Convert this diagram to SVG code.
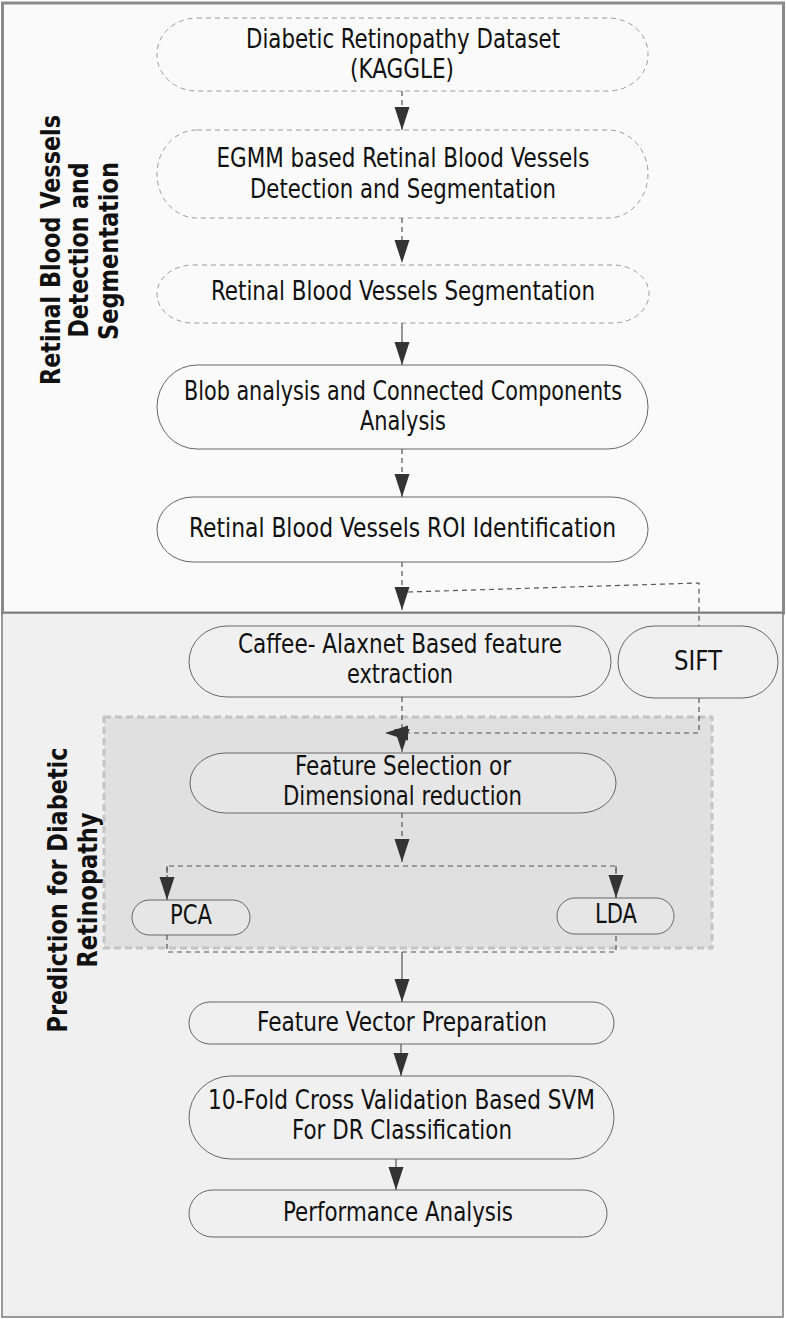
<svg xmlns="http://www.w3.org/2000/svg" width="786" height="1319" viewBox="0 0 786 1319">
<style>
.t{font-family:"DejaVu Sans Condensed","DejaVu Sans",sans-serif;font-size:26px;fill:#111;text-anchor:middle}
.b{font-family:"DejaVu Sans","Liberation Sans",sans-serif;font-size:27px;font-weight:bold;fill:#111;text-anchor:middle}
.nd{fill:#fafafa;stroke:#9a9a9a;stroke-width:1;stroke-dasharray:5,4}
.ns{fill:#fafafa;stroke:#666;stroke-width:1}
.nb{fill:#f0f0f0;stroke:#666;stroke-width:1}
.ng{fill:#e6e6e6;stroke:#666;stroke-width:1}
.cd{fill:none;stroke:#555;stroke-width:1.2;stroke-dasharray:5,4}
.cs{fill:none;stroke:#555;stroke-width:1.2}
</style>
<defs>
<marker id="ah" markerUnits="userSpaceOnUse" markerWidth="24" markerHeight="16" refX="23" refY="7.5" orient="auto" viewBox="0 0 24 16">
<path d="M0,0 L23,7.5 L0,15 z" fill="#333"/>
</marker>
</defs>

<g id="panel-top">
<rect x="2.5" y="3" width="781" height="610" fill="#fafafa" stroke="#8a8a8a" stroke-width="3"/>
<text class="b" transform="translate(60,250) rotate(-90)" textLength="270" lengthAdjust="spacingAndGlyphs">Retinal Blood Vessels</text>
<text class="b" transform="translate(88,250) rotate(-90)" textLength="175" lengthAdjust="spacingAndGlyphs">Detection and</text>
<text class="b" transform="translate(118,251) rotate(-90)" textLength="178" lengthAdjust="spacingAndGlyphs">Segmentation</text>
</g>
<g id="panel-bottom">
<rect x="2" y="613" width="781" height="704" fill="#f0f0f0" stroke="#7a7a7a" stroke-width="1.5"/>
<text class="b" transform="translate(67,890) rotate(-90)" textLength="285" lengthAdjust="spacingAndGlyphs">Prediction for Diabetic</text>
<text class="b" transform="translate(97,890) rotate(-90)" textLength="155" lengthAdjust="spacingAndGlyphs">Retinopathy</text>
</g>
<g id="group-reduction">
<rect x="104" y="717" width="608" height="231" fill="#e0e0e0" stroke="#c4c4c4" stroke-width="3" stroke-dasharray="7,4"/>
</g>

<g id="n1">
<rect class="nd" x="157" y="18" width="491" height="73" rx="40" ry="36"/>
<text class="t" x="403" y="48" textLength="314" lengthAdjust="spacingAndGlyphs">Diabetic Retinopathy Dataset</text>
<text class="t" x="402" y="78" textLength="104" lengthAdjust="spacingAndGlyphs">(KAGGLE)</text>
</g>
<g id="n2">
<rect class="nd" x="157" y="130" width="491" height="88" rx="40" ry="44"/>
<text class="t" x="403" y="167" textLength="373" lengthAdjust="spacingAndGlyphs">EGMM based Retinal Blood Vessels</text>
<text class="t" x="403" y="198" textLength="306" lengthAdjust="spacingAndGlyphs">Detection and Segmentation</text>
</g>
<g id="n3">
<rect class="nd" x="157" y="265" width="492" height="58" rx="36" ry="29"/>
<text class="t" x="403" y="300" textLength="384" lengthAdjust="spacingAndGlyphs">Retinal Blood Vessels Segmentation</text>
</g>
<g id="n4">
<rect class="ns" x="157" y="365" width="491" height="84" rx="40" ry="42"/>
<text class="t" x="403" y="400" textLength="438" lengthAdjust="spacingAndGlyphs">Blob analysis and Connected Components</text>
<text class="t" x="403" y="430" textLength="86" lengthAdjust="spacingAndGlyphs">Analysis</text>
</g>
<g id="n5">
<rect class="ns" x="157" y="497" width="491" height="65" rx="36" ry="32.5"/>
<text class="t" x="402.5" y="537" textLength="427" lengthAdjust="spacingAndGlyphs">Retinal Blood Vessels ROI Identification</text>
</g>
<g id="n6">
<rect class="nb" x="189" y="626" width="422" height="71" rx="38" ry="35.5"/>
<text class="t" x="400" y="653" textLength="324" lengthAdjust="spacingAndGlyphs">Caffee- Alaxnet Based feature</text>
<text class="t" x="400" y="683" textLength="106" lengthAdjust="spacingAndGlyphs">extraction</text>
</g>
<g id="n7">
<rect class="nb" x="618" y="626" width="160" height="72" rx="36" ry="36"/>
<text class="t" x="698" y="670" textLength="48" lengthAdjust="spacingAndGlyphs">SIFT</text>
</g>
<g id="n8">
<rect class="ng" x="190" y="753" width="426" height="60" rx="36" ry="30"/>
<text class="t" x="403" y="775" textLength="216" lengthAdjust="spacingAndGlyphs">Feature Selection or</text>
<text class="t" x="402.5" y="805" textLength="239" lengthAdjust="spacingAndGlyphs">Dimensional reduction</text>
</g>
<g id="n9">
<rect class="ng" x="132" y="900" width="118" height="35" rx="17.5" ry="17.5"/>
<text class="t" x="191" y="924" textLength="42" lengthAdjust="spacingAndGlyphs">PCA</text>
</g>
<g id="n10">
<rect class="ng" x="557" y="898" width="117" height="36" rx="18" ry="18"/>
<text class="t" x="616" y="923" textLength="42" lengthAdjust="spacingAndGlyphs">LDA</text>
</g>
<g id="n11">
<rect class="nb" x="189" y="1002" width="425" height="42" rx="21" ry="21"/>
<text class="t" x="402" y="1031" textLength="290" lengthAdjust="spacingAndGlyphs">Feature Vector Preparation</text>
</g>
<g id="n12">
<rect class="nb" x="189" y="1076" width="425" height="83" rx="42" ry="41.5"/>
<text class="t" x="401.5" y="1109" textLength="387" lengthAdjust="spacingAndGlyphs">10-Fold Cross Validation Based SVM</text>
<text class="t" x="402" y="1139" textLength="220" lengthAdjust="spacingAndGlyphs">For DR Classification</text>
</g>
<g id="n13">
<rect class="nb" x="189" y="1190" width="418" height="47" rx="23.5" ry="23.5"/>
<text class="t" x="398" y="1221" textLength="230" lengthAdjust="spacingAndGlyphs">Performance Analysis</text>
</g>

<g id="connectors">
<path class="cd" d="M402,91 V130" marker-end="url(#ah)"/>
<path class="cd" d="M402,218 V263" marker-end="url(#ah)"/>
<path class="cs" d="M402,323 V365" marker-end="url(#ah)"/>
<path class="cd" d="M402,449 V497" marker-end="url(#ah)"/>
<path class="cd" d="M402,562 V610" marker-end="url(#ah)"/>
<path class="cd" d="M408,592 L699,583 V626"/>
<path class="cd" d="M402,697 V752" marker-end="url(#ah)"/>
<path class="cd" d="M699,698 V733 H385" marker-end="url(#ah)"/>
<path class="cd" d="M402,813 V862" marker-end="url(#ah)"/>
<path class="cd" d="M167,900 V866 H616 V898"/>
<path class="cd" d="M167,866 V900" marker-end="url(#ah)"/>
<path class="cd" d="M616,866 V898" marker-end="url(#ah)"/>
<path class="cd" d="M167,935 V952 H616 V934"/>
<path class="cs" d="M402,952 V1002" marker-end="url(#ah)"/>
<path class="cs" d="M401,1044 V1076" marker-end="url(#ah)"/>
<path class="cs" d="M396,1159 V1190" marker-end="url(#ah)"/>
</g>
</svg>
